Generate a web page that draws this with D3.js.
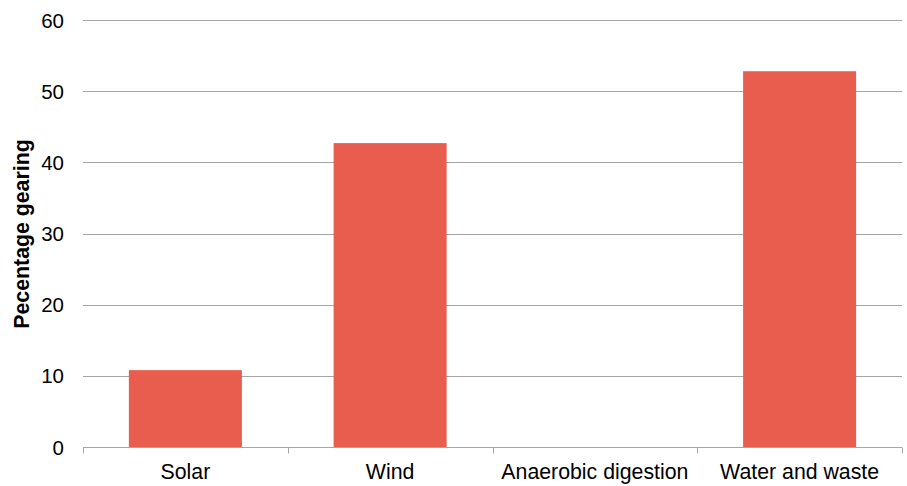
<!DOCTYPE html>
<html><head><meta charset="utf-8">
<script src="https://cdn.jsdelivr.net/npm/d3@7"></script>
<style>body{margin:0;background:#fff}svg{display:block}text{font-family:"Liberation Sans",Arial,sans-serif;fill:#000}</style>
</head><body><svg id="c" width="907" height="486"></svg>
<script>
const categories = ["Solar", "Wind", "Anaerobic digestion", "Water and waste"];
const values = [10.8, 42.7, 0, 52.8];
const yTicks = [0, 10, 20, 30, 40, 50, 60];
const yTitle = "Pecentage gearing";

const svg = d3.select("#c");
const m = {l: 83, r: 5, t: 20, b: 39};
const W = 907, H = 486;
const x = d3.scaleBand().domain(categories).range([m.l, W - m.r]).paddingInner(0.448).paddingOuter(0.224);
const y = d3.scaleLinear().domain([0, 60]).range([H - m.b, m.t]);
const grid = "#a6a6a6";

svg.append("g").selectAll("line").data(yTicks.filter(d => d > 0)).join("line")
  .attr("x1", m.l).attr("x2", W - m.r)
  .attr("y1", d => Math.round(y(d)) + 0.5).attr("y2", d => Math.round(y(d)) + 0.5)
  .attr("stroke", grid).attr("stroke-width", 1);

svg.append("g").selectAll("rect").data(values).join("rect")
  .attr("x", (d, i) => x(categories[i])).attr("width", x.bandwidth())
  .attr("y", d => y(d)).attr("height", d => y(0) - y(d))
  .attr("fill", "#e85d4e");

const xb = Math.round(y(0)) + 0.5;
svg.append("line").attr("x1", m.l).attr("x2", W - m.r).attr("y1", xb).attr("y2", xb).attr("stroke", grid);
const bounds = d3.range(categories.length + 1).map(i => m.l + i * (W - m.r - m.l) / categories.length);
svg.append("g").selectAll("line").data(bounds).join("line")
  .attr("x1", d => Math.round(d) + 0.5).attr("x2", d => Math.round(d) + 0.5)
  .attr("y1", xb).attr("y2", xb + 6).attr("stroke", grid);

svg.append("g").selectAll("text").data(categories).join("text")
  .attr("x", d => x(d) + x.bandwidth() / 2).attr("y", H - m.b + 32)
  .attr("text-anchor", "middle").attr("font-size", 21.3).text(d => d);

svg.append("g").selectAll("text").data(yTicks).join("text")
  .attr("x", 64).attr("y", d => y(d) + 7.5)
  .attr("text-anchor", "end").attr("font-size", 20.5).text(d => d);

svg.append("text").attr("transform", "translate(29,234) rotate(-90)")
  .attr("text-anchor", "middle").attr("font-size", 21.3).attr("font-weight", "bold").text(yTitle);
</script></body></html>
